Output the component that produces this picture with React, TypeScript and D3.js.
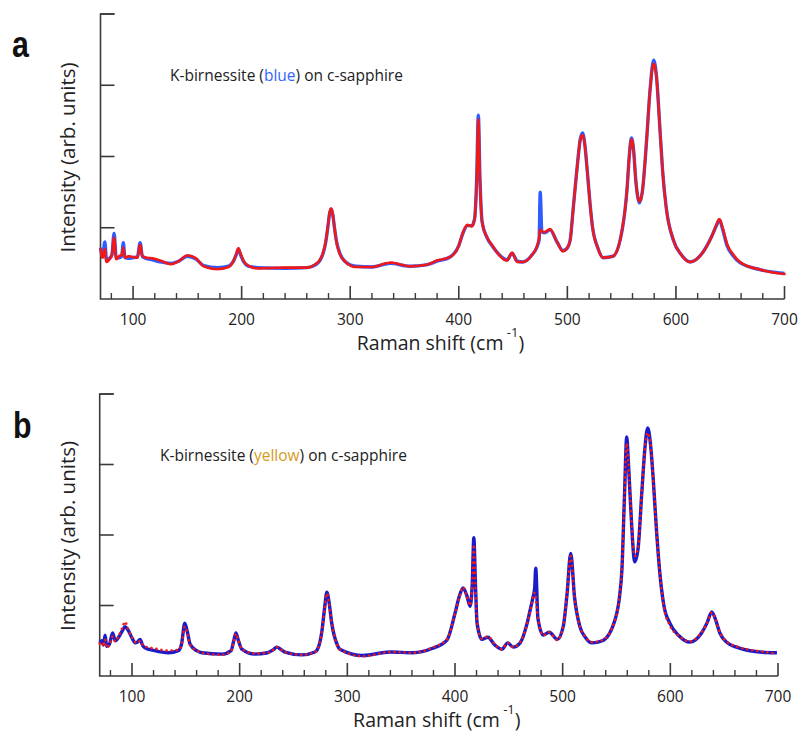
import React from 'react';
import * as d3 from 'd3';

// Raman shift (cm^-1) sample positions and intensities (axis units: ticks at 0..4)
const ramanA = [70, 72, 74, 75.5, 78, 80.5, 82.5, 84.5, 87, 89.5,
  91, 92.5, 96, 100, 104, 106.5, 108.5, 112, 118, 125,
  135, 142, 150, 158, 165, 178, 188, 192, 195, 197,
  199, 202, 206, 215, 240, 260, 268, 272, 275, 277.5,
  279.5, 281, 282.5, 284, 285.5, 287.5, 290, 295, 305, 320,
  337, 355, 370, 380, 392, 400, 404, 408, 412, 414.5,
  416.5, 418, 419.5, 421.5, 426, 431, 435.5, 444.5, 449, 454,
  459, 467.5, 472, 474, 475, 476.5, 479, 484, 490.5, 496,
  499, 502.5, 505.5, 509, 512, 514, 516, 518.5, 521, 523,
  528, 533, 542, 550.5, 555, 557, 559, 561, 563, 566.5,
  569, 573, 576, 579.5, 582, 585.5, 588, 591, 597.5, 605,
  613, 625, 633, 637, 640, 643, 647, 653, 659, 678,
  700];
const fitA = [0.72, 0.60, 0.80, 0.55, 0.57, 0.62, 0.92, 0.58, 0.58, 0.60,
  0.79, 0.58, 0.57, 0.58, 0.59, 0.79, 0.60, 0.57, 0.55, 0.52,
  0.50, 0.53, 0.60, 0.56, 0.47, 0.44, 0.46, 0.52, 0.62, 0.70,
  0.62, 0.52, 0.46, 0.44, 0.43, 0.44, 0.48, 0.54, 0.64, 0.80,
  1.02, 1.20, 1.26, 1.18, 1.00, 0.80, 0.66, 0.53, 0.46, 0.45,
  0.50, 0.46, 0.48, 0.53, 0.59, 0.75, 0.93, 1.03, 1.03, 1.12,
  1.70, 2.58, 1.70, 1.08, 0.86, 0.74, 0.65, 0.55, 0.64, 0.53,
  0.52, 0.62, 0.73, 0.83, 1.50, 0.94, 0.93, 0.97, 0.80, 0.68,
  0.70, 0.82, 1.29, 1.85, 2.25, 2.33, 2.18, 1.77, 1.32, 1.03,
  0.72, 0.58, 0.60, 0.97, 1.55, 2.00, 2.26, 2.09, 1.67, 1.35,
  1.50, 2.23, 2.90, 3.35, 3.14, 2.33, 1.75, 1.29, 0.83, 0.62,
  0.52, 0.66, 0.88, 1.02, 1.11, 0.98, 0.75, 0.60, 0.51, 0.41,
  0.36];
const dataA = [0.70, 0.58, 0.70, 0.52, 0.55, 0.62, 0.86, 0.56, 0.60, 0.62,
  0.72, 0.58, 0.60, 0.59, 0.58, 0.76, 0.61, 0.58, 0.57, 0.54,
  0.49, 0.53, 0.61, 0.57, 0.46, 0.42, 0.45, 0.52, 0.63, 0.71,
  0.64, 0.53, 0.47, 0.43, 0.44, 0.44, 0.49, 0.55, 0.65, 0.81,
  1.03, 1.21, 1.27, 1.18, 1.00, 0.79, 0.65, 0.53, 0.45, 0.45,
  0.51, 0.46, 0.48, 0.54, 0.59, 0.75, 0.94, 1.04, 1.02, 1.12,
  1.66, 2.52, 1.66, 1.08, 0.87, 0.75, 0.65, 0.54, 0.65, 0.52,
  0.52, 0.62, 0.74, 0.86, 0.97, 0.95, 0.94, 0.98, 0.80, 0.67,
  0.70, 0.82, 1.28, 1.84, 2.24, 2.30, 2.17, 1.77, 1.32, 1.03,
  0.72, 0.58, 0.60, 0.98, 1.55, 2.00, 2.24, 2.09, 1.67, 1.37,
  1.50, 2.23, 2.90, 3.30, 3.12, 2.33, 1.75, 1.29, 0.84, 0.62,
  0.52, 0.66, 0.88, 1.03, 1.12, 1.00, 0.78, 0.62, 0.52, 0.41,
  0.35];

const ramanB = [70, 72, 73.5, 75, 76.5, 79, 82, 84.5, 88, 91,
  93.5, 96, 100, 103, 105, 107.5, 110, 112, 121, 133.5,
  143, 146, 149, 151.5, 154, 160, 165, 183.5, 192, 194.5,
  196.5, 198.5, 202, 214, 226, 231, 234.5, 238, 242, 258,
  270, 274, 276.5, 279, 281, 283, 285.5, 291, 293, 314.5,
  339.5, 361, 378.5, 392.5, 400, 404, 407.5, 411, 414, 416,
  417.5, 419, 420.5, 425, 430.5, 437, 443.5, 449, 454, 460.5,
  467, 470, 472.5, 474, 475, 477, 482, 487.5, 495, 500.5,
  504, 507.5, 511, 516, 521, 527, 537, 548.5, 553, 555,
  557.5, 559.5, 561, 563, 567, 570, 573.5, 576.5, 579, 581.5,
  584, 587, 590, 594, 599.5, 608, 618, 629, 634, 638.5,
  642, 646, 653, 661.5, 683, 699];
const fitB = [0.47, 0.50, 0.44, 0.58, 0.42, 0.45, 0.61, 0.50, 0.56, 0.64,
  0.70, 0.66, 0.54, 0.47, 0.48, 0.52, 0.43, 0.40, 0.36, 0.33,
  0.36, 0.45, 0.75, 0.62, 0.45, 0.36, 0.33, 0.31, 0.36, 0.50,
  0.61, 0.52, 0.38, 0.31, 0.33, 0.37, 0.41, 0.38, 0.34, 0.30,
  0.34, 0.45, 0.65, 0.98, 1.19, 1.05, 0.75, 0.43, 0.38, 0.29,
  0.34, 0.33, 0.39, 0.51, 0.89, 1.13, 1.25, 1.14, 0.99, 1.30,
  1.96, 1.30, 0.75, 0.52, 0.55, 0.44, 0.38, 0.47, 0.41, 0.47,
  0.75, 0.95, 1.12, 1.25, 1.53, 0.82, 0.58, 0.62, 0.52, 0.70,
  1.15, 1.74, 1.12, 0.70, 0.55, 0.47, 0.50, 0.79, 1.15, 1.50,
  2.60, 3.39, 3.05, 2.45, 1.62, 1.80, 2.60, 3.25, 3.52, 3.30,
  2.82, 2.10, 1.50, 1.00, 0.75, 0.57, 0.48, 0.61, 0.75, 0.91,
  0.80, 0.61, 0.47, 0.41, 0.34, 0.33];
const dataB = [0.46, 0.48, 0.42, 0.52, 0.40, 0.44, 0.56, 0.49, 0.58, 0.68,
  0.77, 0.68, 0.55, 0.48, 0.47, 0.50, 0.44, 0.42, 0.39, 0.36,
  0.37, 0.44, 0.70, 0.60, 0.44, 0.36, 0.33, 0.30, 0.35, 0.48,
  0.60, 0.52, 0.38, 0.32, 0.33, 0.37, 0.41, 0.38, 0.34, 0.30,
  0.34, 0.45, 0.64, 0.96, 1.17, 1.04, 0.76, 0.43, 0.38, 0.28,
  0.34, 0.33, 0.40, 0.52, 0.88, 1.12, 1.26, 1.13, 1.00, 1.30,
  1.86, 1.28, 0.76, 0.53, 0.56, 0.45, 0.38, 0.47, 0.41, 0.48,
  0.74, 0.93, 1.12, 1.18, 1.12, 0.82, 0.58, 0.62, 0.51, 0.70,
  1.15, 1.70, 1.12, 0.70, 0.56, 0.48, 0.51, 0.79, 1.15, 1.50,
  2.60, 3.30, 3.05, 2.45, 1.70, 1.82, 2.60, 3.25, 3.45, 3.30,
  2.82, 2.10, 1.50, 0.98, 0.72, 0.57, 0.49, 0.62, 0.75, 0.90,
  0.80, 0.62, 0.48, 0.42, 0.35, 0.32];

const majorTicks = [100, 200, 300, 400, 500, 600, 700];
const minorTicks = [80, 120, 140, 160, 180, 220, 240, 260, 280, 320, 340, 360, 380,
  420, 440, 460, 480, 520, 540, 560, 580, 620, 640, 660, 680];
const yTicks = [1, 2, 3, 4];

const AXIS = '#3a3a3a';
const FONT = '"Open Sans", "Noto Sans", sans-serif';

type PanelProps = {
  letter: string;
  letterX: number;
  letterY: number;
  x0: number; x1: number; yTop: number; yBot: number;
  raman: number[]; fit: number[]; data: number[];
  blue: string; redDash: string; redWidth: number;
  noteX: number; word: string; wordColor: string;
};

function Panel(p: PanelProps) {
  const x = d3.scaleLinear().domain([70, 700]).range([p.x0, p.x1]);
  const y = d3.scaleLinear().domain([0, 4]).range([p.yBot, p.yTop]);
  const line = d3.line<number>()
    .x((_, i) => x(p.raman[i]))
    .curve(d3.curveMonotoneX);
  const fitPath = line.y((v) => y(v))(p.fit) || '';
  const dataPath = line.y((v) => y(v))(p.data) || '';
  const midY = (p.yTop + p.yBot) / 2;
  const midX = (p.x0 + p.x1) / 2;
  return (
    <g>
      <text x={p.letterX} y={p.letterY} fontFamily='"Liberation Sans", Arial, sans-serif'
        fontWeight="bold" fontSize={37} fill="#111"
        transform={`translate(${p.letterX},0) scale(0.82,1) translate(${-p.letterX},0)`}>{p.letter}</text>
      <text transform={`translate(75,${midY + 1}) rotate(-90)`} textAnchor="middle" fontFamily={FONT}
        fontSize={20.5} fill="#222">Intensity (arb. units)</text>
      <text x={p.noteX} y={p.yTop + 67} fontFamily={FONT} fontSize={15.5} fill="#222">
        K-birnessite (<tspan fill={p.wordColor}>{p.word}</tspan>) on c-sapphire
      </text>
      {/* axes */}
      <path d={`M${p.x0 + 14},${p.yTop}H${p.x0}V${p.yBot}H${p.x1}`} fill="none" stroke={AXIS} strokeWidth={1.6} />
      {yTicks.map((t) => (
        <line key={'y' + t} x1={p.x0} x2={p.x0 + 14} y1={y(t)} y2={y(t)} stroke={AXIS} strokeWidth={1.6} />
      ))}
      {majorTicks.map((t) => (
        <g key={'M' + t}>
          <line x1={x(t)} x2={x(t)} y1={p.yBot} y2={p.yBot - 13} stroke={AXIS} strokeWidth={1.6} />
          <text x={x(t)} y={p.yBot + 26} textAnchor="middle" fontFamily={FONT} fontSize={15.5} fill="#222">{t}</text>
        </g>
      ))}
      {minorTicks.map((t) => (
        <line key={'m' + t} x1={x(t)} x2={x(t)} y1={p.yBot} y2={p.yBot - 6} stroke={AXIS} strokeWidth={1.4} />
      ))}
      <text x={midX - 2} y={p.yBot + 51} textAnchor="middle" fontFamily={FONT} fontSize={19.5} fill="#222">
        Raman shift (cm<tspan dy={-13} fontSize={13}> -1</tspan><tspan dy={13}>)</tspan>
      </text>
      {/* spectra */}
      <path d={fitPath} fill="none" stroke={p.blue} strokeWidth={3.4} strokeLinejoin="round" />
      <path d={dataPath} fill="none" stroke="#f01818" strokeWidth={p.redWidth} strokeDasharray={p.redDash}
        strokeLinecap="round" strokeLinejoin="round" />
    </g>
  );
}

export default function App() {
  return (
    <svg width={800} height={734} viewBox="0 0 800 734"
      style={{ position: 'absolute', left: 0, top: 0, background: '#fff' }}>
      <rect width={800} height={734} fill="#fff" />
      <Panel letter="a" letterX={12} letterY={57} x0={100.5} x1={784.5} yTop={14} yBot={299}
        raman={ramanA} fit={fitA} data={dataA} blue="#2f5cff" redDash="2.2 0.8" redWidth={2.6}
        noteX={170} word="blue" wordColor="#3366ff" />
      <Panel letter="b" letterX={13} letterY={438} x0={99.7} x1={778} yTop={394} yBot={676}
        raman={ramanB} fit={fitB} data={dataB} blue="#1b1bc8" redDash="0.1 5" redWidth={2.6}
        noteX={160} word="yellow" wordColor="#d49a1c" />
    </svg>
  );
}
